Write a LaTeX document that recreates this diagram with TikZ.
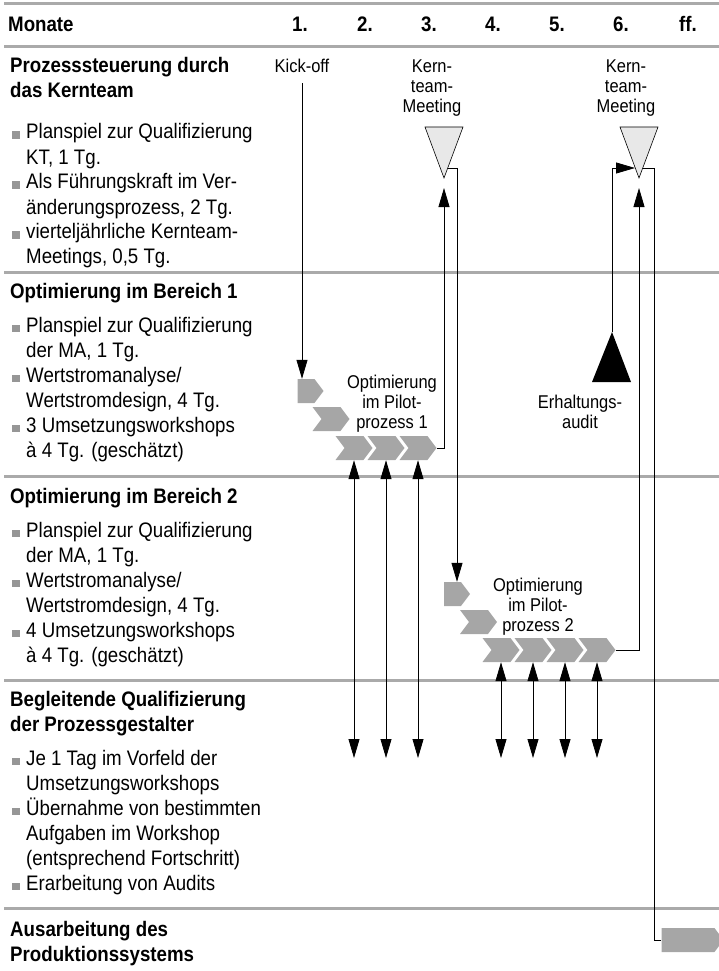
\documentclass[tikz,border=0pt]{standalone}
\usepackage{fontspec}
\setmainfont{Liberation Sans}[FakeStretch=0.89]
\usepackage{xcolor}
\usetikzlibrary{arrows.meta, shapes.symbols}

\definecolor{linegray}{RGB}{170,170,170}
\definecolor{chevgray}{RGB}{166,166,166}
\definecolor{bulgray}{RGB}{150,150,150}
\definecolor{trigray}{RGB}{232,232,232}

\newcommand{\bul}{\makebox[14pt][l]{\textcolor{bulgray}{\rule{7.5pt}{7.5pt}}}}
\newcommand{\ind}{\hspace*{14pt}}

\begin{document}
\begin{tikzpicture}[x=1pt, y=-1pt,
    sep/.style={line width=3pt, linegray},
    head/.style={anchor=base west, inner sep=0, font=\fontsize{21}{25}\selectfont\bfseries},
    body/.style={anchor=base west, inner sep=0, font=\fontsize{21}{25}\selectfont},
    lab/.style={anchor=base, inner sep=0, font=\fontsize{18.5}{20}\selectfont},
    chev/.style={signal, signal from=west, signal to=east, signal pointer angle=106,
        fill=chevgray, minimum height=24pt, minimum width=37pt, inner sep=0},
    chevstart/.style={chev, signal from=nowhere, minimum width=26pt},
    link/.style={line width=0.8pt},
    arr/.style={-{Triangle[length=19pt, width=11pt]}},
    both/.style={{Triangle[length=19pt, width=11pt]}-{Triangle[length=19pt, width=11pt]}}]
\useasboundingbox (0,0) rectangle (719,971);

% rows
\draw[sep] (4,4) -- (719,4);
\draw[sep] (4,47) -- (719,47);
\draw[sep] (4,272) -- (719,272);
\draw[sep] (4,476) -- (719,476);
\draw[sep] (4,680) -- (719,680);
\draw[sep] (4,908) -- (719,908);

% header
\node[head] (monate) at (8,32) {Monate};
\foreach \x [count=\i] in {300,365,429,493,557,621}
    \node[head, anchor=base] (mon\i) at (\x,32) {\i.};
\node[head, anchor=base] (monff) at (688,32) {ff.};

% left column
\node[head] (sec1) at (10,73) {\begin{tabular}[t]{@{}l@{}}Prozesssteuerung durch\\das Kernteam\end{tabular}};
\node[body] (sec1list) at (12,139) {\begin{tabular}[t]{@{}l@{}}
    \bul Planspiel zur Qualifizierung\\
    \ind KT, 1 Tg.\\
    \bul Als Führungskraft im Ver-\\
    \ind änderungsprozess, 2 Tg.\\
    \bul vierteljährliche Kernteam-\\
    \ind Meetings, 0,5 Tg.\end{tabular}};

\node[head] (sec2) at (10,298) {Optimierung im Bereich 1};
\node[body] (sec2list) at (12,332) {\begin{tabular}[t]{@{}l@{}}
    \bul Planspiel zur Qualifizierung\\
    \ind der MA, 1 Tg.\\
    \bul Wertstromanalyse/\\
    \ind Wertstromdesign, 4 Tg.\\
    \bul 3 Umsetzungsworkshops\\
    \ind à 4 Tg. (geschätzt)\end{tabular}};

\node[head] (sec3) at (10,503) {Optimierung im Bereich 2};
\node[body] (sec3list) at (12,537) {\begin{tabular}[t]{@{}l@{}}
    \bul Planspiel zur Qualifizierung\\
    \ind der MA, 1 Tg.\\
    \bul Wertstromanalyse/\\
    \ind Wertstromdesign, 4 Tg.\\
    \bul 4 Umsetzungsworkshops\\
    \ind à 4 Tg. (geschätzt)\end{tabular}};

\node[head] (sec4) at (10,706) {\begin{tabular}[t]{@{}l@{}}Begleitende Qualifizierung\\der Prozessgestalter\end{tabular}};
\node[body] (sec4list) at (12,765) {\begin{tabular}[t]{@{}l@{}}
    \bul Je 1 Tag im Vorfeld der\\
    \ind Umsetzungsworkshops\\
    \bul Übernahme von bestimmten\\
    \ind Aufgaben im Workshop\\
    \ind (entsprechend Fortschritt)\\
    \bul Erarbeitung von Audits\end{tabular}};

\node[head] (sec5) at (10,936) {\begin{tabular}[t]{@{}l@{}}Ausarbeitung des\\Produktionssystems\end{tabular}};

% labels
\node[lab] (kick) at (302,73) {Kick-off};
\node[lab] (km1lab) at (432,73) {\begin{tabular}[t]{@{}c@{}}Kern-\\team-\\Meeting\end{tabular}};
\node[lab] (km2lab) at (626,73) {\begin{tabular}[t]{@{}c@{}}Kern-\\team-\\Meeting\end{tabular}};
\node[lab] (pilot1) at (392,388) {\begin{tabular}[t]{@{}c@{}}Optimierung\\im Pilot-\\prozess 1\end{tabular}};
\node[lab] (pilot2) at (538,591) {\begin{tabular}[t]{@{}c@{}}Optimierung\\im Pilot-\\prozess 2\end{tabular}};
\node[lab] (audlab) at (580,408) {\begin{tabular}[t]{@{}c@{}}Erhaltungs-\\audit\end{tabular}};

% kernteam meetings and audit
\filldraw[fill=trigray, draw=black, line width=0.6pt] (425,127) -- (463,127) -- (444,178) -- cycle;
\filldraw[fill=trigray, draw=black, line width=0.6pt] (620,127) -- (658,127) -- (639,178) -- cycle;
\coordinate (km1) at (444,178);
\coordinate (km1r) at (448,168);
\coordinate (km2) at (639,178);
\coordinate (km2l) at (635,168);
\coordinate (km2r) at (643,168);
\fill (612,332) -- (631,382) -- (592,382) -- cycle;
\coordinate (aud) at (612,332);

% pilot 1
\node[chevstart] (b1s) at (306,391) {};
\node[chev] (b1a) at (331,419) {};
\foreach \x [count=\i] in {354,386,418}
    \node[chev] (b1w\i) at (\x,448) {};

% pilot 2
\node[chevstart] (b2s) at (452.5,594) {};
\node[chev] (b2a) at (478.5,622) {};
\foreach \x [count=\i] in {501,533,565,597}
    \node[chev] (b2w\i) at (\x,650) {};

% produktionssystem
\node[chevstart, minimum width=62pt] (prod) at (688,940) {};

% connectors
\coordinate (qend) at (0,758);
\draw[link, arr] ([yshift=-10pt]kick.south) -- (kick.south |- b1s.north);
\draw[link, arr, shorten >=10pt] (b1w3.east) -| (km1);
\draw[link, arr] (km1r) -| ([xshift=4.5pt]b2s.north);
\draw[link, arr, shorten >=10pt] (b2w4.east) -| (km2);
\draw[link, arr] (aud) |- (km2l);
\draw[link] (km2r) -- ++(11,0) |- (prod.west);
\foreach \i in {1,2,3}
    \draw[link, both] (b1w\i.south) -- (b1w\i.south |- qend);
\foreach \i in {1,2,3,4}
    \draw[link, both] (b2w\i.south) -- (b2w\i.south |- qend);
\end{tikzpicture}
\end{document}
